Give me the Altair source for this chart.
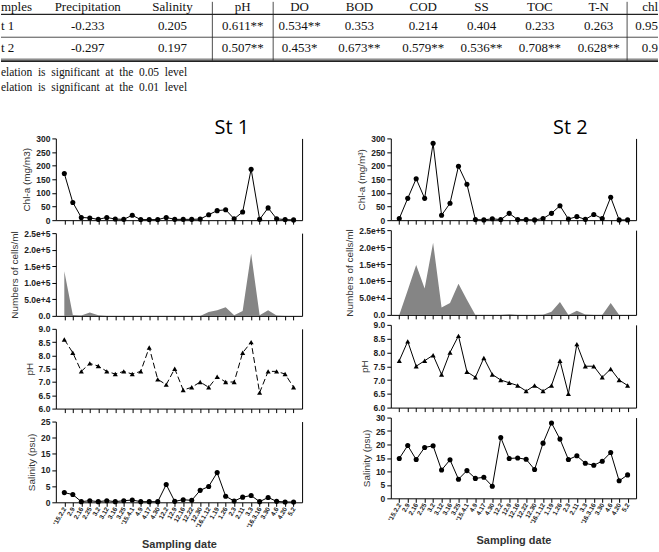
import altair as alt
import pandas as pd

# ---------------- data ----------------
dates = ["'15.2.2", "2.9", "2.16", "2.25", "3.2", "3.12", "3.16", "3.25", "'15.4.1",
         "4.9", "4.17", "4.30", "12.2", "12.9", "12.16", "12.22", "12.30", "'16.1.12",
         "1.19", "1.26", "2.3", "2.11", "3.3", "'16.3.16", "3.30", "4.6", "4.20", "5.2"]

st1_chla = [171, 65, 10, 8, 3, 10, 4, 3, 18, 2, 2, 2, 10, 3, 3, 3, 4, 20, 35, 38,
            5, 30, 187, 3, 45, 5, 2, 1]
st1_cells = [135000, 3000, 1500, 10000, 2000, 0, 0, 0, 0, 0, 0, 0, 0, 0, 0, 0,
             0, 12000, 17000, 26000, 2000, 15000, 188000, 2000, 17000, 1000, 0, 0]
st1_ph = [8.6, 8.1, 7.4, 7.7, 7.6, 7.4, 7.3, 7.4, 7.3, 7.4, 8.3, 7.1, 6.9, 7.5,
          6.7, 6.8, 7.0, 6.8, 7.2, 7.0, 7.0, 8.1, 8.5, 6.6, 7.4, 7.4, 7.3, 6.8]
st1_sal = [3.0, 2.4, 0.2, 0.5, 0.2, 0.5, 0.2, 0.5, 0.7, 0.2, 0.2, 0.2, 5.5, 0.3,
           0.8, 0.6, 3.7, 4.9, 9.2, 1.9, 0.4, 1.6, 2.1, 0.2, 1.5, 0.3, 0.1, 0.1]

st2_chla = [6, 80, 152, 80, 282, 18, 62, 198, 132, 2, 1, 5, 2, 25, 2, 2, 1, 6,
            25, 53, 4, 13, 3, 21, 6, 84, 1, 1]
st2_cells = [0, 73000, 147000, 78000, 213000, 22000, 35000, 92000, 45000, 0, 0, 0,
             0, 1500, 0, 0, 0, 500, 9000, 38000, 0, 12000, 1000, 0, 0, 35000, 0, 0]
st2_ph = [7.7, 8.4, 7.5, 7.7, 7.9, 7.2, 8.0, 8.6, 7.3, 7.1, 7.8, 7.2, 7.0, 6.9,
          6.8, 6.6, 6.8, 6.6, 6.8, 7.7, 6.5, 8.3, 7.5, 7.5, 7.1, 7.4, 7.0, 6.8]
st2_sal = [14.8, 19.6, 14.4, 18.9, 19.5, 10.5, 14.3, 7.1, 10.3, 7.4, 7.8, 4.5,
           22.6, 14.8, 15.0, 14.5, 10.7, 20.5, 28.0, 22.0, 14.4, 15.8, 13.0, 12.3,
           13.8, 17.0, 6.5, 8.7]

# table content
tbl_header = ["Precipitation", "Salinity", "pH", "DO", "BOD", "COD", "SS", "TOC", "T-N"]
tbl_st1 = ["-0.233", "0.205", "0.611**", "0.534**", "0.353", "0.214", "0.404", "0.233", "0.263"]
tbl_st2 = ["-0.297", "0.197", "0.507**", "0.453*", "0.673**", "0.579**", "0.536**", "0.708**", "0.628**"]
tbl_left = ["mples", "t 1", "t 2"]
tbl_right = ["chl", "0.95", "0.9"]
NB = " \u00a0"
notes = [NB.join("elation is significant at the 0.05 level".split(" ")),
         NB.join("elation is significant at the 0.01 level".split(" "))]

# ---------------- table layout ----------------
L = 55          # x of the left plot area (table is aligned to it)
T = 16          # top extent of the chart block below
TH = 94
col_edges = [42, 132, 212, 273, 326, 393, 454, 510, 571, 628]
vlines = [212, 273, 628]
row_y = [5.5, 24, 46.5]
xs = alt.Scale(domain=[0, 659], range=[-L, 659 - L])
ys = alt.Scale(domain=[0, TH], range=[-T, TH - T])
TFONT = "Liberation Serif"

centers = [(col_edges[i] + col_edges[i + 1]) / 2 for i in range(len(col_edges) - 1)]
rows = []
for r, vals in enumerate([tbl_header, tbl_st1, tbl_st2]):
    for c, t in enumerate(vals):
        rows.append({"t": t, "x": centers[c], "y": row_y[r]})
center_df = pd.DataFrame(rows)
left_df = pd.DataFrame({"t": tbl_left, "x": [0] * 3, "y": row_y})
note_df = pd.DataFrame({"t": notes, "x": [0] * 2, "y": [71, 86]})
right_df = pd.DataFrame({"t": tbl_right, "x": [659] * 3, "y": row_y})

rule_rows = []
for yy, w in [(12.5, 1.2), (35.5, 0.8), (57.5, 0.8), (59.5, 1.6)]:
    rule_rows.append({"x": 0, "x2": 659, "y": yy, "y2": yy, "w": w})
for xe in vlines:
    rule_rows.append({"x": xe, "x2": xe, "y": 0, "y2": 59, "w": 0.8})
rule_df = pd.DataFrame(rule_rows)

tx = alt.X("x:Q", scale=xs, axis=None)
ty = alt.Y("y:Q", scale=ys, axis=None)
t_center = alt.Chart(center_df).mark_text(font=TFONT, fontSize=13, align="center",
                                          baseline="middle", color="#111").encode(
    x=tx, y=ty, text="t:N")
t_left = alt.Chart(left_df).mark_text(font=TFONT, fontSize=13, align="left",
                                      baseline="middle", color="#111").encode(
    x=tx, y=ty, text="t:N")
t_note = alt.Chart(note_df).mark_text(font=TFONT, fontSize=11.5, align="left",
                                      baseline="middle", color="#111").encode(
    x=tx, y=ty, text="t:N")
t_right = alt.Chart(right_df).mark_text(font=TFONT, fontSize=13, align="right",
                                        baseline="middle", color="#111").encode(
    x=tx, y=ty, text="t:N")
t_rules = alt.Chart(rule_df).mark_rule(color="#222").encode(
    x=tx, x2="x2:Q", y=ty, y2="y2:Q", strokeWidth=alt.StrokeWidth("w:Q", scale=None))
table = alt.layer(t_rules, t_center, t_left, t_note, t_right).properties(
    width=659 - L, height=TH - T)

# ---------------- panels ----------------
def panel(values, kind, ytitle, ydom, yticks, width, height, show_x, title=None,
          title_dx=0, label_expr=None, fmt=None, dashed=False, tpad=4):
    df = pd.DataFrame({"date": dates, "v": values})
    xaxis = alt.Axis(title="Sampling date" if show_x else "", labels=show_x,
                     labelAngle=-60, labelAlign="right", labelBaseline="middle",
                     labelFontSize=6.5, labelPadding=1, tickSize=4,
                     titleFontWeight="bold", titleFontSize=11, titlePadding=9)
    x = alt.X("date:O", sort=dates, scale=alt.Scale(type="point", padding=1.0), axis=xaxis)
    ax_kw = dict(title=ytitle, values=yticks, tickSize=4, labelPadding=2, titlePadding=tpad)
    if label_expr:
        ax_kw["labelExpr"] = label_expr
    if fmt:
        ax_kw["format"] = fmt
    ysc = alt.Scale(domain=ydom, nice=False, zero=False)
    y = alt.Y("v:Q", scale=ysc, axis=alt.Axis(**ax_kw))
    y_none = alt.Y("v:Q", scale=ysc, axis=None)
    y_r = alt.Y("v:Q", scale=ysc, axis=alt.Axis(orient="right", labels=False, ticks=False,
                                                 title="", domain=True))
    base = alt.Chart(df)
    layers = []
    if kind == "area":
        layers.append(base.mark_area(color="#858585", opacity=1).encode(x=x, y=y))
    else:
        lkw = dict(color="black", strokeWidth=1)
        if dashed:
            lkw["strokeDash"] = [6, 3]
        layers.append(base.mark_line(**lkw).encode(x=x, y=y))
        shape = "triangle-up" if kind == "tri" else "circle"
        layers.append(base.mark_point(filled=True, shape=shape, size=26, color="black",
                                      opacity=1).encode(x=x, y=y_none))
    layers.append(base.mark_point(opacity=0).encode(x=x, y=y_r))
    ch = alt.layer(*layers).resolve_axis(y="independent").properties(width=width, height=height)
    if title:
        ch = ch.properties(title=alt.TitleParams(title, font="Open Sans", fontSize=20,
                                                 fontWeight="normal", color="black",
                                                 anchor="middle", frame="group",
                                                 dx=title_dx, offset=-4))
    return ch

cells_expr = ("datum.value == 0 ? '0.0' : datum.value == 50000 ? '5.0e+4' : "
              "datum.value == 100000 ? '1.0e+5' : datum.value == 150000 ? '1.5e+5' : "
              "datum.value == 200000 ? '2.0e+5' : '2.5e+5'")
cells_ticks = [0, 50000, 100000, 150000, 200000, 250000]
W = 247

left = alt.vconcat(
    panel(st1_chla, "circle", "Chl-a (mg/m3)", [0, 300], list(range(0, 301, 50)), W, 82, False,
          title="St 1", title_dx=53),
    panel(st1_cells, "area", "Numbers of cells/ml", [0, 250000], cells_ticks, W, 83, False,
          label_expr=cells_expr),
    panel(st1_ph, "tri", "pH", [6, 9], [6, 6.5, 7, 7.5, 8, 8.5, 9], W, 80, False, fmt=".1f",
          dashed=True),
    panel(st1_sal, "circle", "Salinity (psu)", [0, 25], [0, 5, 10, 15, 20, 25], W, 81, True),
    spacing=4)

right = alt.vconcat(
    panel(st2_chla, "circle", "Chl-a (mg/m³)", [0, 300], list(range(0, 301, 50)), 246, 82, False,
          title="St 2", title_dx=57),
    panel(st2_cells, "area", "Numbers of cells/ml", [0, 250000], cells_ticks, 246, 85, False,
          label_expr=cells_expr),
    panel(st2_ph, "tri", "pH", [6, 9], [6, 6.5, 7, 7.5, 8, 8.5, 9], 246, 83, False, fmt=".1f"),
    panel(st2_sal, "circle", "Salinity (psu)", [0, 30], [0, 5, 10, 15, 20, 25, 30], 246, 81, True),
    spacing=1)

chart = alt.vconcat(table, alt.hconcat(left, right, spacing=42), spacing=23).properties(
    padding={"left": 0, "top": 0, "right": 0, "bottom": 0}
).configure_view(stroke=None).configure_axis(
    labelFont="Liberation Sans", labelFontSize=8.5, labelFontWeight="bold", labelColor="#222",
    titleFont="Liberation Sans", titleFontSize=10, titleFontWeight="normal", titleColor="#333",
    domainColor="black", tickColor="black", domainWidth=1, tickWidth=1, grid=False)

chart.save("out.html", embed_options={"renderer": "svg", "actions": False})
